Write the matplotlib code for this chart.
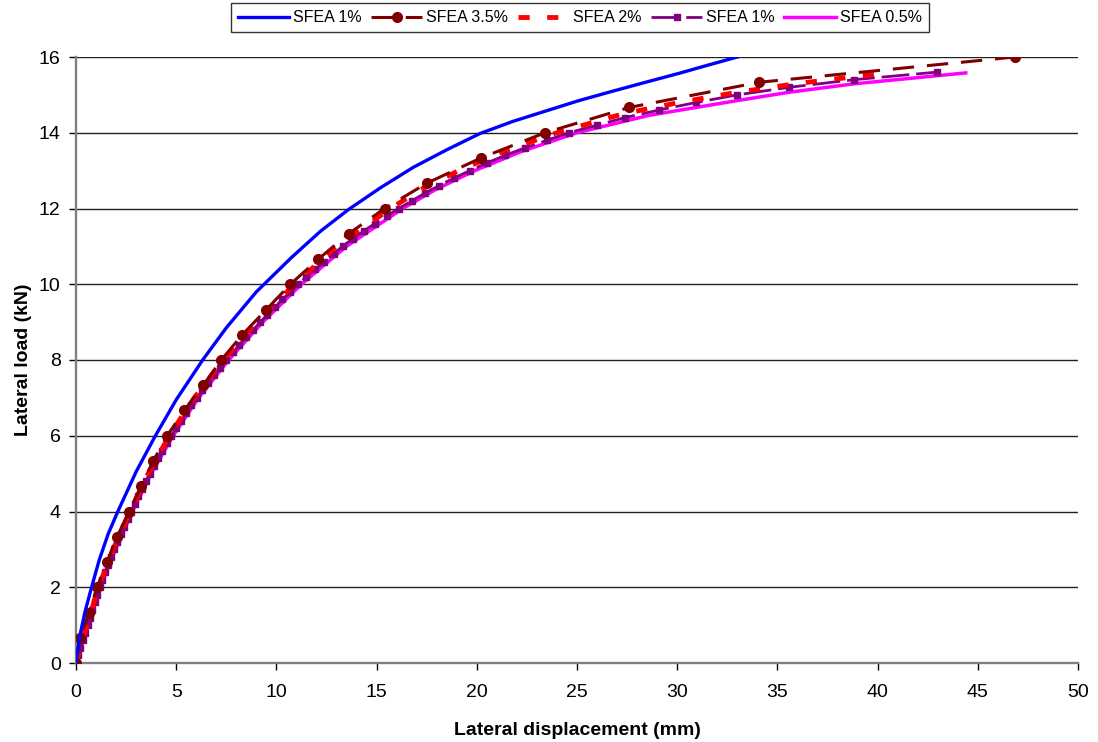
import matplotlib
matplotlib.use("Agg")
import matplotlib.pyplot as plt

plt.rcParams.update({
    "font.family": ["Liberation Sans", "DejaVu Sans"],
    "font.size": 14,
})

# ---------------------------------------------------------------------------
# Data: lateral displacement (mm) / load (kN)
# ---------------------------------------------------------------------------
blue_x = [0, 0.2, 0.45, 0.7, 1.0, 1.16, 1.6, 2.07, 3.0, 3.94, 5.0, 6.32, 7.5,
          9.0, 10.76, 12.2, 13.59, 15.2, 16.84, 18.5, 20.16, 21.8, 23.48,
          25.1, 26.8, 28.4, 30.1, 31.5, 33.0]
blue_y = [0, 0.74, 1.35, 1.85, 2.42, 2.72, 3.4, 3.98, 5.05, 5.98, 6.95, 8.0,
          8.85, 9.8, 10.71, 11.4, 11.97, 12.55, 13.09, 13.55, 13.98, 14.3,
          14.58, 14.85, 15.1, 15.33, 15.57, 15.78, 16.0]

sfea35_x = [0, 0.2, 0.65, 1.05, 1.55, 2.05, 2.65, 3.25, 3.85, 4.55, 5.4, 6.35,
            7.25, 8.3, 9.5, 10.7, 12.1, 13.6, 15.4, 17.5, 20.2, 23.4, 27.6,
            34.1, 46.85]
sfea35_y = [0, 0.667, 1.333, 2.0, 2.667, 3.333, 4.0, 4.667, 5.333, 6.0, 6.667,
            7.333, 8.0, 8.667, 9.333, 10.0, 10.667, 11.333, 12.0, 12.667,
            13.333, 14.0, 14.667, 15.333, 16.0]

sfea2_x = [0, 0.55, 1.12, 1.85, 2.7, 3.6, 4.65, 5.9, 7.35, 9.0, 10.9, 13.0,
           15.7, 17.2, 19.1, 21.3, 24.0, 27.3, 30.1, 33.0, 36.0, 38.7, 40.3]
sfea2_y = [0, 1, 2, 3, 4, 5, 6, 7, 8, 9, 10, 11, 12, 12.5, 13, 13.5, 14, 14.5,
           14.8, 15.07, 15.3, 15.47, 15.57]

sfea1_y = [0.0, 0.2, 0.4, 0.6, 0.8, 1.0, 1.2, 1.4, 1.6, 1.8, 2.0, 2.2, 2.4,
           2.6, 2.8, 3.0, 3.2, 3.4, 3.6, 3.8, 4.0, 4.2, 4.4, 4.6, 4.8, 5.0,
           5.2, 5.4, 5.6, 5.8, 6.0, 6.2, 6.4, 6.6, 6.8, 7.0, 7.2, 7.4, 7.6,
           7.8, 8.0, 8.2, 8.4, 8.6, 8.8, 9.0, 9.2, 9.4, 9.6, 9.8, 10.0, 10.2,
           10.4, 10.6, 10.8, 11.0, 11.2, 11.4, 11.6, 11.8, 12.0, 12.2, 12.4,
           12.6, 12.8, 13.0, 13.2, 13.4, 13.6, 13.8, 14.0, 14.2, 14.4, 14.6,
           14.8, 15.0, 15.2, 15.4, 15.6]
sfea1_x = [0, 0.1, 0.22, 0.34, 0.46, 0.58, 0.7, 0.82, 0.94, 1.06, 1.18, 1.32,
           1.46, 1.61, 1.76, 1.91, 2.07, 2.23, 2.4, 2.57, 2.74, 2.92, 3.1,
           3.29, 3.48, 3.68, 3.88, 4.09, 4.3, 4.52, 4.75, 4.99, 5.24, 5.5,
           5.76, 6.03, 6.31, 6.6, 6.89, 7.19, 7.5, 7.82, 8.15, 8.49, 8.84,
           9.2, 9.55, 9.92, 10.3, 10.7, 11.1, 11.5, 11.95, 12.4, 12.85, 13.3,
           13.8, 14.35, 14.9, 15.5, 16.1, 16.75, 17.4, 18.1, 18.85, 19.65,
           20.5, 21.4, 22.4, 23.5, 24.6, 26.0, 27.4, 29.1, 30.95, 33.0, 35.6,
           38.8, 42.95]

sfea05_x = [0, 0.62, 1.22, 1.97, 2.82, 3.75, 4.85, 6.12, 7.62, 9.32, 11.25,
            13.5, 16.3, 17.95, 19.9, 22.2, 25.0, 28.6, 33.0, 35.6, 38.8, 44.4]
sfea05_y = [0, 1, 2, 3, 4, 5, 6, 7, 8, 9, 10, 11, 12, 12.5, 13, 13.5, 14,
            14.46, 14.85, 15.07, 15.29, 15.58]

labels = ["SFEA 1%", "SFEA 3.5%", "SFEA 2%", "SFEA 1%", "SFEA 0.5%"]

fig = plt.figure(figsize=(10.98, 7.42), dpi=100)
ax = fig.add_axes([76 / 1098, 79 / 742, 1002 / 1098, 606 / 742])

h_blue, = ax.plot(blue_x, blue_y, color="#0000FF", lw=2.4, zorder=6)
h_35, = ax.plot(sfea35_x, sfea35_y, color="#800000", lw=2.2, marker="o",
                ms=7, dashes=(7, 4.2), zorder=5)
h_2, = ax.plot(sfea2_x, sfea2_y, color="#FF0000", lw=3.5, dashes=(2.3, 3.6),
               zorder=4)
h_1, = ax.plot(sfea1_x, sfea1_y, color="#800080", lw=2.0, marker="s",
               ms=5, dashes=(10, 2.5), zorder=3)
h_05, = ax.plot(sfea05_x, sfea05_y, color="#FF00FF", lw=2.5, zorder=2)

ax.set_xlim(0, 50)
ax.set_ylim(0, 16)
ax.set_xticks(range(0, 51, 5))
ax.set_yticks(range(0, 17, 2))
ax.grid(axis="y", color="#222222", lw=1.0)
ax.set_axisbelow(True)
for s in ["top", "right"]:
    ax.spines[s].set_visible(False)
for s in ["left", "bottom"]:
    ax.spines[s].set_color("#808080")
    ax.spines[s].set_linewidth(1.7)
ax.tick_params(axis="both", direction="out", length=5, width=1,
               colors="black", labelsize=14)
ax.tick_params(axis="x", pad=10)
ax.tick_params(axis="y", pad=6)

ax.set_xlabel("Lateral displacement (mm)", fontsize=14, fontweight="bold",
              labelpad=15)
ax.set_ylabel("Lateral load (kN)", fontsize=14, fontweight="bold",
              labelpad=5)

leg = fig.legend([h_blue, h_35, h_2, h_1, h_05], labels, ncol=5,
                 loc="upper center", bbox_to_anchor=(0.528, 0.996),
                 fontsize=11.5, frameon=True, fancybox=False,
                 handlelength=3.2, columnspacing=0.6, handletextpad=0.25,
                 borderpad=0.45, borderaxespad=0)
leg.get_frame().set_edgecolor("black")
leg.get_frame().set_linewidth(1.0)

fig.savefig("out.png", dpi=100, facecolor="white")
